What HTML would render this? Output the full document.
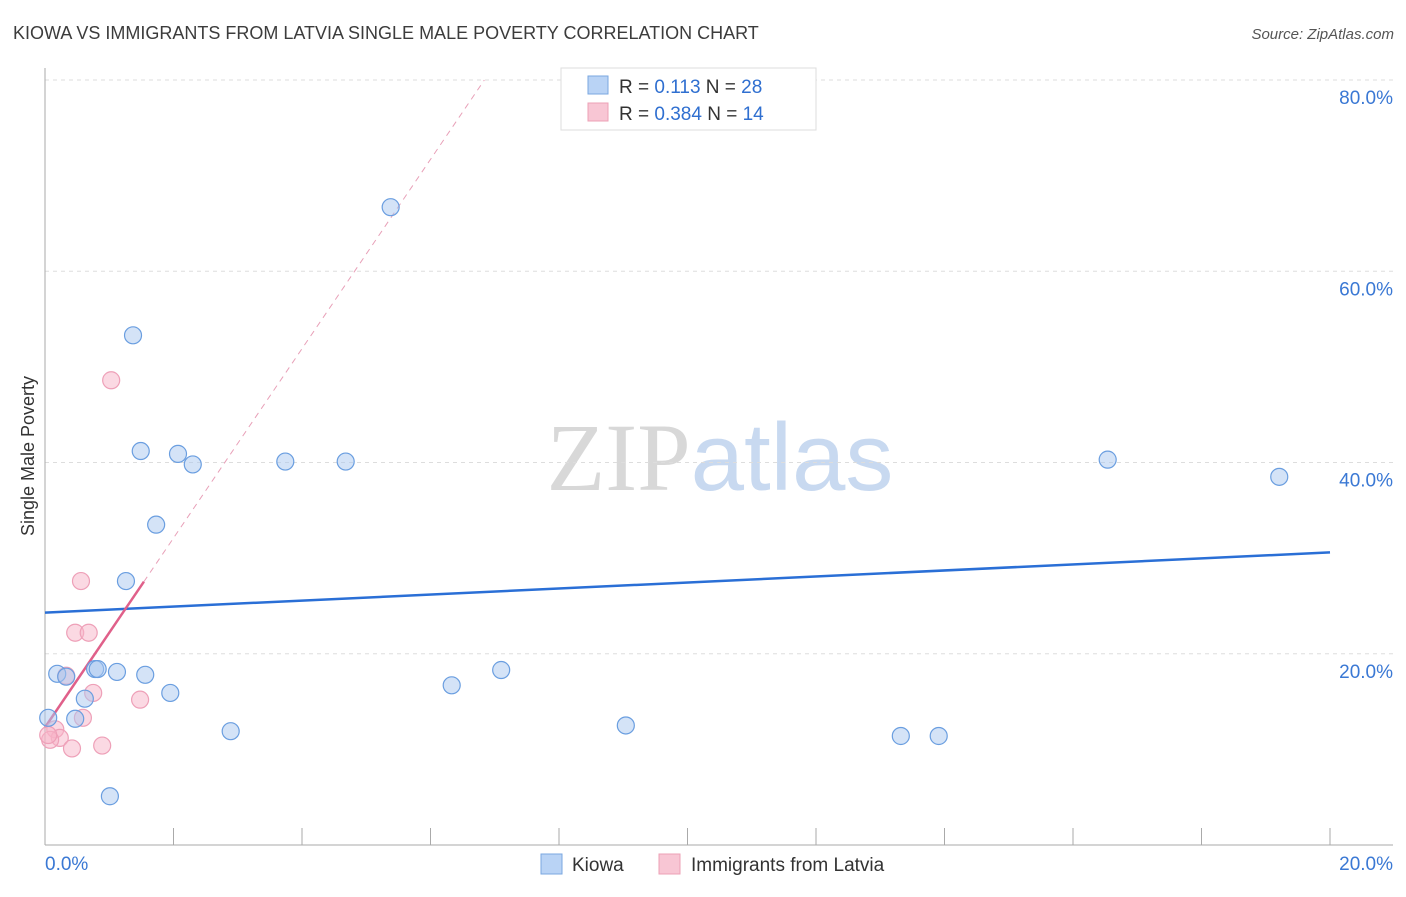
<!DOCTYPE html>
<html><head><meta charset="utf-8"><style>
body{margin:0;background:#fff;font-family:"Liberation Sans",sans-serif;}
svg text{font-family:"Liberation Sans",sans-serif;}
</style></head><body>
<svg id="chart" width="1406" height="892" xmlns="http://www.w3.org/2000/svg">
<text x="13" y="39" font-size="18" fill="#3c3c3c">KIOWA VS IMMIGRANTS FROM LATVIA SINGLE MALE POVERTY CORRELATION CHART</text>
<text x="1394" y="39" font-size="15" fill="#555" text-anchor="end" font-style="italic">Source: ZipAtlas.com</text>
<text x="720" y="490" font-size="96" text-anchor="middle"><tspan fill="#d8d8d8" font-family="Liberation Serif">ZIP</tspan><tspan fill="#c8d9f0">atlas</tspan></text>
<text transform="translate(34,456) rotate(-90)" font-size="18" fill="#333" text-anchor="middle">Single Male Poverty</text>
<g id="grid"></g><g id="axes"></g><g id="lines"></g><g id="pts"></g>
<g>
<rect x="561" y="68" width="255" height="62" fill="#fff" stroke="#ddd"/>
<rect x="588" y="76" width="20" height="18" fill="#b9d3f5" stroke="#7aa7e0"/>
<rect x="588" y="103" width="20" height="18" fill="#f8c6d4" stroke="#eda0b6"/>
<text x="619" y="93" font-size="19" fill="#333">R = <tspan fill="#2f6fd0"> 0.113</tspan>   N = <tspan fill="#2f6fd0">28</tspan></text>
<text x="619" y="120" font-size="19" fill="#333">R = <tspan fill="#2f6fd0">0.384</tspan>   N = <tspan fill="#2f6fd0"> 14</tspan></text>
</g>
<g>
<rect x="541" y="854" width="21" height="20" fill="#b9d3f5" stroke="#7aa7e0"/>
<text x="572" y="871" font-size="19" fill="#333">Kiowa</text>
<rect x="659" y="854" width="21" height="20" fill="#f8c6d4" stroke="#eda0b6"/>
<text x="691" y="871" font-size="19" fill="#333">Immigrants from Latvia</text>
</g>
</svg>
<script>
const yTicks=[20,40,60,80];
const xTickLabels=["0.0%","20.0%"];
const kiowaX=[1.37,1.49,2.07,2.30,1.73,1.26,3.74,4.68,5.38,16.54,19.21,0.19,0.33,0.78,0.82,1.12,1.56,1.95,0.62,0.47,0.05,1.01,2.89,6.33,7.10,9.04,13.32,13.91];
const kiowaY=[53.3,41.2,40.9,39.8,33.5,27.6,40.1,40.1,66.7,40.3,38.5,17.9,17.6,18.4,18.4,18.1,17.8,15.9,15.3,13.2,13.3,5.1,11.9,16.7,18.3,12.5,11.4,11.4];
const latviaX=[1.03,0.56,0.47,0.68,0.33,0.75,1.48,0.59,0.16,0.23,0.08,0.42,0.89,0.05];
const latviaY=[48.6,27.6,22.2,22.2,17.7,15.9,15.2,13.3,12.1,11.2,11.0,10.1,10.4,11.5];
const kiowaTrend=[24.3,30.6];
const latviaTrend=[12.3,9.9];
const NS="http://www.w3.org/2000/svg";
const X=v=>45+v/20*1285, Y=v=>845-v/80*765;
function mk(p,t,a){const e=document.createElementNS(NS,t);for(const k in a)e.setAttribute(k,a[k]);document.getElementById(p).appendChild(e);return e;}
yTicks.forEach(t=>{
 const l=mk('grid','line',{x1:45,x2:1393,y1:Y(t),y2:Y(t),stroke:'#ddd','stroke-dasharray':'4,4'});
 
 
 const tx=mk('grid','text',{x:1393,y:Y(t)+24,'font-size':19,fill:'#3a78d4','text-anchor':'end'});
 tx.textContent=t.toFixed(1)+'%';
 
 
});
const ax=mk('axes','line',{x1:45,x2:1393,y1:845,y2:845,stroke:'#aaa'});


const ay=mk('axes','line',{x1:45,x2:45,y1:68,y2:845,stroke:'#aaa'});


for(let i=0;i<=10;i++){const t=mk('axes','line',{x1:X(i*2),x2:X(i*2),y1:828,y2:845,stroke:'#aaa'});
 
 }
[[0,'start',45],[20,'end',1393]].forEach((d,i)=>{const t=mk('axes','text',{x:d[2],y:870,'font-size':19,fill:'#3a78d4','text-anchor':d[1]});t.textContent=xTickLabels[i];
 
 });
const bl=mk('lines','line',{x1:X(0),y1:Y(kiowaTrend[0]),x2:X(20),y2:Y(kiowaTrend[1]),stroke:'#2a6fd6','stroke-width':2.5});


const xe=(80-latviaTrend[0])/latviaTrend[1];
const pd=mk('lines','line',{x1:X(0),y1:Y(latviaTrend[0]),x2:X(xe),y2:Y(80),stroke:'#e8a0b8','stroke-width':1,'stroke-dasharray':'6,5'});


const xm=Math.max(...latviaX);
const pl=mk('lines','line',{x1:X(0),y1:Y(latviaTrend[0]),x2:X(xm*1.04),y2:Y(latviaTrend[0]+latviaTrend[1]*xm*1.04),stroke:'#e0608a','stroke-width':2.5});


latviaX.forEach((x,i)=>{const c=mk('pts','circle',{cx:X(x),cy:Y(latviaY[i]),r:8.5,fill:'rgba(248,180,200,0.5)',stroke:'#eea0b8','stroke-width':1.2});
 
 });
kiowaX.forEach((x,i)=>{const c=mk('pts','circle',{cx:X(x),cy:Y(kiowaY[i]),r:8.5,fill:'rgba(170,200,240,0.5)',stroke:'#6a9ee0','stroke-width':1.2});
 
 });
</script>
</body></html>
